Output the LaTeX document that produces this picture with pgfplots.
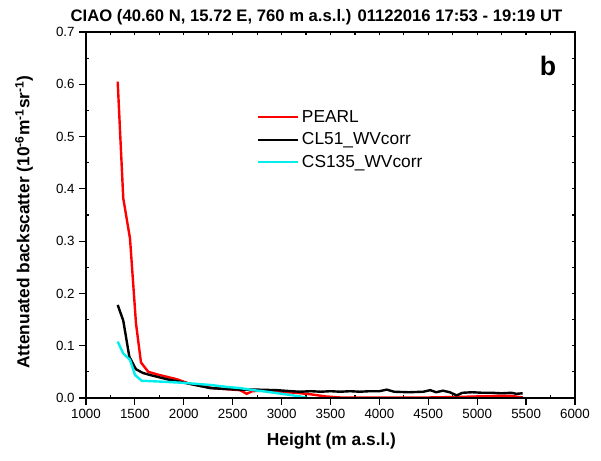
\documentclass[border=0pt]{standalone}
\usepackage{pgfplots}
\pgfplotsset{compat=1.18}
\usepackage{fontspec}
\setmainfont{Liberation Sans}
\definecolor{pcyan}{RGB}{0,238,238}
\definecolor{pred}{RGB}{255,0,0}
\begin{document}
\begin{tikzpicture}
\path (-86*0.75pt,-63*0.75pt) rectangle (515*0.75pt,398*0.75pt);
\begin{axis}[
  name=main,
  scale only axis,
  width=366.75pt, height=274.5pt,
  xmin=1000, xmax=6000, ymin=0, ymax=0.7,
  xtick={1000,1500,...,6000},
  ytick={0,0.1,0.2,0.3,0.4,0.5,0.6,0.7},
  tick align=outside,
  xtick pos=bottom, ytick pos=left,
  major tick length=5pt,
  extra x ticks={1250,1750,2250,2750,3250,3750,4250,4750,5250,5750},
  extra y ticks={0.05,0.15,0.25,0.35,0.45,0.55,0.65},
  extra x tick labels={}, extra y tick labels={},
  extra tick style={tick align=inside, major tick length=2.5pt},
  axis line style={line width=0.9pt},
  every tick/.style={line width=0.9pt, black},
  /pgf/number format/assume math mode=true,
  x tick label style={font=\fontsize{10}{12}\selectfont, /pgf/number format/set thousands separator={}},
  y tick label style={font=\fontsize{10}{12}\selectfont, /pgf/number format/fixed, /pgf/number format/fixed zerofill, /pgf/number format/precision=1},
  legend style={draw=none, fill=none, at={(0.349,0.794)}, anchor=north west, font=\fontsize{13}{15}\selectfont, inner sep=0pt, row sep=2.3pt},
  legend cell align=left,
  legend image code/.code={\draw[#1] (0pt,0pt) -- (30pt,0pt);},
  clip=false,
]
\addplot[pred, line width=1.8pt] coordinates {
(1324,0.605) (1381,0.382) (1450,0.305) (1511,0.143) (1562,0.068) (1637,0.050)
(1750,0.044) (1927,0.036) (2063,0.027) (2299,0.019) (2500,0.016) (2575,0.015)
(2643,0.008) (2700,0.013) (2800,0.014) (2950,0.012) (3150,0.010) (3300,0.007)
(3450,0.003) (3600,0.001) (4000,0.001) (4500,0.001) (4800,0.002) (5000,0.003)
(5200,0.004) (5350,0.004) (5465,0.001)
};
\addlegendentry{PEARL}
\addplot[black, line width=1.8pt] coordinates {
(1324,0.178) (1381,0.148) (1443,0.079) (1511,0.055) (1580,0.048) (1654,0.044)
(1825,0.036) (2063,0.027) (2268,0.019) (2450,0.017) (2575,0.016) (2750,0.016)
(2950,0.015) (3100,0.013) (3188,0.012) (3300,0.013) (3400,0.012) (3500,0.013)
(3600,0.012) (3700,0.013) (3800,0.012) (3900,0.013) (4000,0.013) (4075,0.016)
(4150,0.012) (4300,0.011) (4450,0.012) (4520,0.015) (4580,0.011) (4650,0.014)
(4720,0.011) (4790,0.005) (4850,0.010) (4950,0.011) (5050,0.010) (5150,0.010)
(5250,0.009) (5350,0.010) (5400,0.008) (5465,0.009)
};
\addlegendentry{CL51\_WVcorr}
\addplot[pcyan, line width=1.8pt] coordinates {
(1324,0.108) (1381,0.085) (1450,0.073) (1501,0.044) (1569,0.033) (1800,0.031)
(1995,0.029) (2268,0.025) (2450,0.021) (2575,0.019) (2711,0.015) (2850,0.012)
(2984,0.0085) (3188,0.003) (3260,0.0)
};
\addlegendentry{CS135\_WVcorr}
\end{axis}
\begin{axis}[
  scale only axis,
  width=366.75pt, height=274.5pt,
  xmin=1000, xmax=6000, ymin=0, ymax=0.7,
  xtick={1000,1250,...,6000},
  ytick={0,0.05,0.1,0.15,0.2,0.25,0.3,0.35,0.4,0.45,0.5,0.55,0.6,0.65,0.7},
  xticklabels={}, yticklabels={},
  xtick pos=top, ytick pos=right,
  tick align=inside,
  major tick length=2.5pt,
  axis line style={line width=0.9pt},
  every tick/.style={line width=0.9pt, black},
]
\end{axis}
\node[font=\bfseries\fontsize{12.5}{15}\selectfont] at (230.5*0.75pt,381*0.75pt) {CIAO (40.60 N, 15.72 E, 760 m a.s.l.) 01122016 17:53 - 19:19 UT};
\node[font=\bfseries\fontsize{13}{15}\selectfont, rotate=90] at (-62*0.75pt,176*0.75pt) {Attenuated backscatter (10\textsuperscript{-6}m\textsuperscript{-1}sr\textsuperscript{-1})};
\node[font=\bfseries\fontsize{13}{15}\selectfont] at (245.5*0.75pt,-43*0.75pt) {Height (m a.s.l.)};
\node[font=\bfseries\fontsize{20}{24}\selectfont] at (462*0.75pt,332*0.75pt) {b};
\end{tikzpicture}
\end{document}
